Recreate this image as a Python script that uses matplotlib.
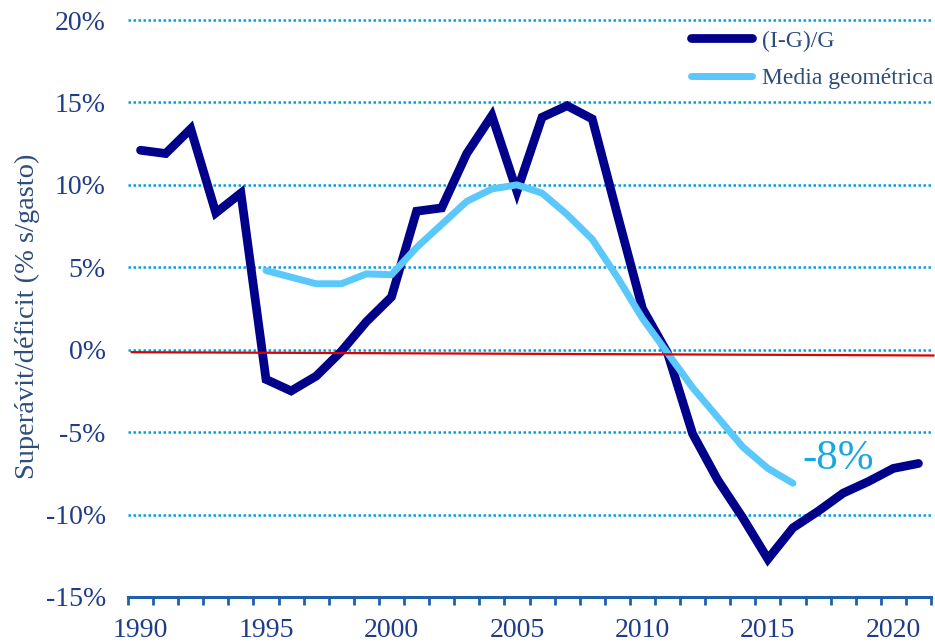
import numpy as np
import matplotlib
matplotlib.use("Agg")
import matplotlib.pyplot as plt

# (I-G)/G, % of spending, 1990-2021
years = list(range(1990, 2022))
ig_g = [12.1, 11.9, 13.4, 8.3, 9.5, -1.8, -2.5, -1.6, -0.1, 1.7,
        3.2, 8.4, 8.6, 11.9, 14.2, 9.6, 14.1, 14.8, 14.0, 8.2,
        2.5, -0.2, -5.1, -7.9, -10.2, -12.7, -10.8, -9.8, -8.7, -8.0,
        -7.2, -6.9]

# geometric mean, 1995-2016
geo_years = list(range(1995, 2017))
geo_mean = [4.8, 4.4, 4.0, 4.0, 4.6, 4.55, 6.2, 7.6, 9.0, 9.75,
            10.0, 9.5, 8.2, 6.7, 4.4, 1.9, -0.2, -2.3, -4.1, -5.9,
            -7.2, -8.1]

# red reference line (start / end)
ref_x = [1989.65, 2021.6]
ref_y = [-0.15, -0.35]

ytick_vals = [20, 15, 10, 5, 0, -5, -10, -15]
xlabel_years = [1990, 1995, 2000, 2005, 2010, 2015, 2020]

plt.rcParams['font.family'] = ['Liberation Serif', 'DejaVu Serif']

DARK = "#00008B"
LIGHT = "#5BC8FC"
GRID = "#00A0E6"
TICKC = "#1F3C88"
LABC = "#2E4D7B"

fig = plt.figure(figsize=(9.35, 6.42), dpi=100)
ax = fig.add_axes([128/935, 1 - 597/642, (931 - 128)/935, (597 - 20)/642])

ax.set_xlim(1989.5, 2021.5)
ax.set_ylim(-15, 20)

for v in ytick_vals:
    ax.axhline(v, color=GRID, lw=1.8, ls=(0, (1, 1)), zorder=1, clip_on=False)

ax.plot(years, ig_g, color=DARK, lw=6.3, solid_capstyle='round',
        solid_joinstyle='miter', label="(I-G)/G", zorder=3)
ax.plot(geo_years, geo_mean, color=LIGHT, lw=5.0, solid_capstyle='round',
        label="Media geométrica", zorder=4)
ax.plot(ref_x, ref_y, color="#E00000", lw=1.6, zorder=5, clip_on=False)

ax.text(2017.8, -6.6, "-8%", color="#1AA7E0", fontsize=31, ha='center', va='center')

for s in ['left', 'right', 'top']:
    ax.spines[s].set_visible(False)
ax.spines['bottom'].set_color("#1F5FAF")
ax.spines['bottom'].set_linewidth(2.2)

ax.set_yticks(ytick_vals)
ax.set_yticklabels([f"{v}%" for v in ytick_vals])
ax.tick_params(axis='y', length=0, pad=16, labelsize=20, labelcolor=TICKC)

ax.set_xticks(np.arange(1989.5, 2022, 1.0))
ax.set_xticklabels([])
ax.tick_params(axis='x', which='major', length=6, width=2, color="#1F5FAF", direction='out')
ax.set_xticks(xlabel_years, minor=True)
ax.set_xticklabels([str(y) for y in xlabel_years], minor=True)
ax.tick_params(axis='x', which='minor', length=0, pad=15, labelsize=20, labelcolor=TICKC)

ax.set_ylabel("Superávit/déficit (% s/gasto)", fontsize=20.5, color=LABC)
ax.yaxis.set_label_coords(-0.11, 0.486)

leg = ax.legend(loc='upper right', bbox_to_anchor=(1.02, 1.007), frameon=False,
                fontsize=17, handlelength=2.6, handletextpad=0.4, labelspacing=0.68,
                borderaxespad=0.2)
for t in leg.get_texts():
    t.set_color(LABC)

fig.savefig("out.png", dpi=100)
